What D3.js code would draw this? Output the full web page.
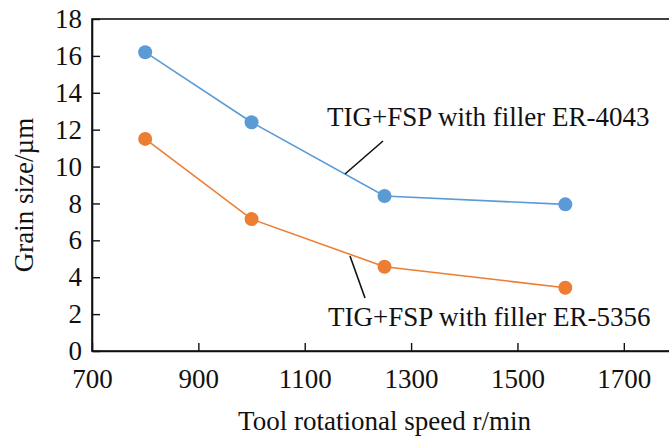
<!DOCTYPE html>
<html>
<head>
<meta charset="utf-8">
<script src="https://cdn.jsdelivr.net/npm/d3@7"></script>
<style>
  html, body { margin: 0; padding: 0; background: #fff; }
  svg { display: block; }
  svg text { font-family: "Liberation Serif", "DejaVu Serif", serif !important; fill: #111; }
</style>
</head>
<body>
<svg id="chart" width="669" height="438" font-family="Liberation Serif, serif"></svg>
<script>
// Tool rotational speed (r/min)
const speeds = [800, 1000, 1250, 1590];
// Grain size (µm) for each filler
const er4043 = [16.2, 12.4, 8.4, 7.95];
const er5356 = [11.5, 7.15, 4.57, 3.43];
const seriesNames = ["TIG+FSP with filler ER-4043", "TIG+FSP with filler ER-5356"];
const xTicks = [700, 900, 1100, 1300, 1500, 1700];
const yTicks = [0, 2, 4, 6, 8, 10, 12, 14, 16, 18];

const svg = d3.select("#chart");
const fontSize = 27;
const serif = "Liberation Serif, serif";

const x = d3.scaleLinear().domain([700, 1800]).range([92, 677]);
const y = d3.scaleLinear().domain([0, 18]).range([351, 19]);

// plot frame
svg.append("rect")
  .attr("x", x(700)).attr("y", y(18))
  .attr("width", x(1800) - x(700)).attr("height", y(0) - y(18))
  .attr("fill", "none").attr("stroke", "#111").attr("stroke-width", 1.6);

const xAxis = svg.append("g")
  .attr("transform", `translate(0,${y(0)})`)
  .call(d3.axisBottom(x).tickValues(xTicks).tickFormat(d3.format("d"))
    .tickSizeInner(-8).tickSizeOuter(0).tickPadding(18));
const yAxis = svg.append("g")
  .attr("transform", `translate(${x(700)},0)`)
  .call(d3.axisLeft(y).tickValues(yTicks).tickFormat(d3.format("d"))
    .tickSizeInner(-8).tickSizeOuter(0).tickPadding(10));

[xAxis, yAxis].forEach(g => {
  g.attr("font-family", serif).attr("font-size", fontSize);
  g.select(".domain").attr("stroke", "#111").attr("stroke-width", 1.6);
  g.selectAll(".tick line").attr("stroke", "#111").attr("stroke-width", 1.4);
  g.selectAll(".tick text").attr("font-family", serif).attr("fill", "#111");
});

// axis titles
svg.append("text")
  .attr("x", (x(700) + x(1800)) / 2).attr("y", 430)
  .attr("text-anchor", "middle").attr("font-family", serif).attr("font-size", fontSize)
  .text("Tool rotational speed r/min");
svg.append("text")
  .attr("transform", `translate(33,${(y(0) + y(18)) / 2 + 10}) rotate(-90)`)
  .attr("text-anchor", "middle").attr("font-family", serif).attr("font-size", fontSize)
  .text("Grain size/µm");

// series lines and markers
const series = [
  { values: er4043, color: "#5b9bd5" },
  { values: er5356, color: "#ed7d31" }
];
const line = d3.line().x(d => x(d[0])).y(d => y(d[1]));
series.forEach(s => {
  const pts = speeds.map((v, i) => [v, s.values[i]]);
  svg.append("path").datum(pts)
    .attr("d", line).attr("fill", "none")
    .attr("stroke", s.color).attr("stroke-width", 1.6);
  svg.selectAll(null).data(pts).enter().append("circle")
    .attr("cx", d => x(d[0])).attr("cy", d => y(d[1]))
    .attr("r", 7).attr("fill", s.color);
});

// series labels with leader lines
svg.append("line")
  .attr("x1", 383).attr("y1", 141).attr("x2", 345).attr("y2", 174)
  .attr("stroke", "#111").attr("stroke-width", 1.6);
svg.append("text")
  .attr("x", 327).attr("y", 126).attr("font-family", serif).attr("font-size", fontSize)
  .text(seriesNames[0]);

svg.append("line")
  .attr("x1", 350).attr("y1", 256).attr("x2", 365).attr("y2", 298)
  .attr("stroke", "#111").attr("stroke-width", 1.6);
svg.append("text")
  .attr("x", 328).attr("y", 326).attr("font-family", serif).attr("font-size", fontSize)
  .text(seriesNames[1]);
</script>
</body>
</html>
